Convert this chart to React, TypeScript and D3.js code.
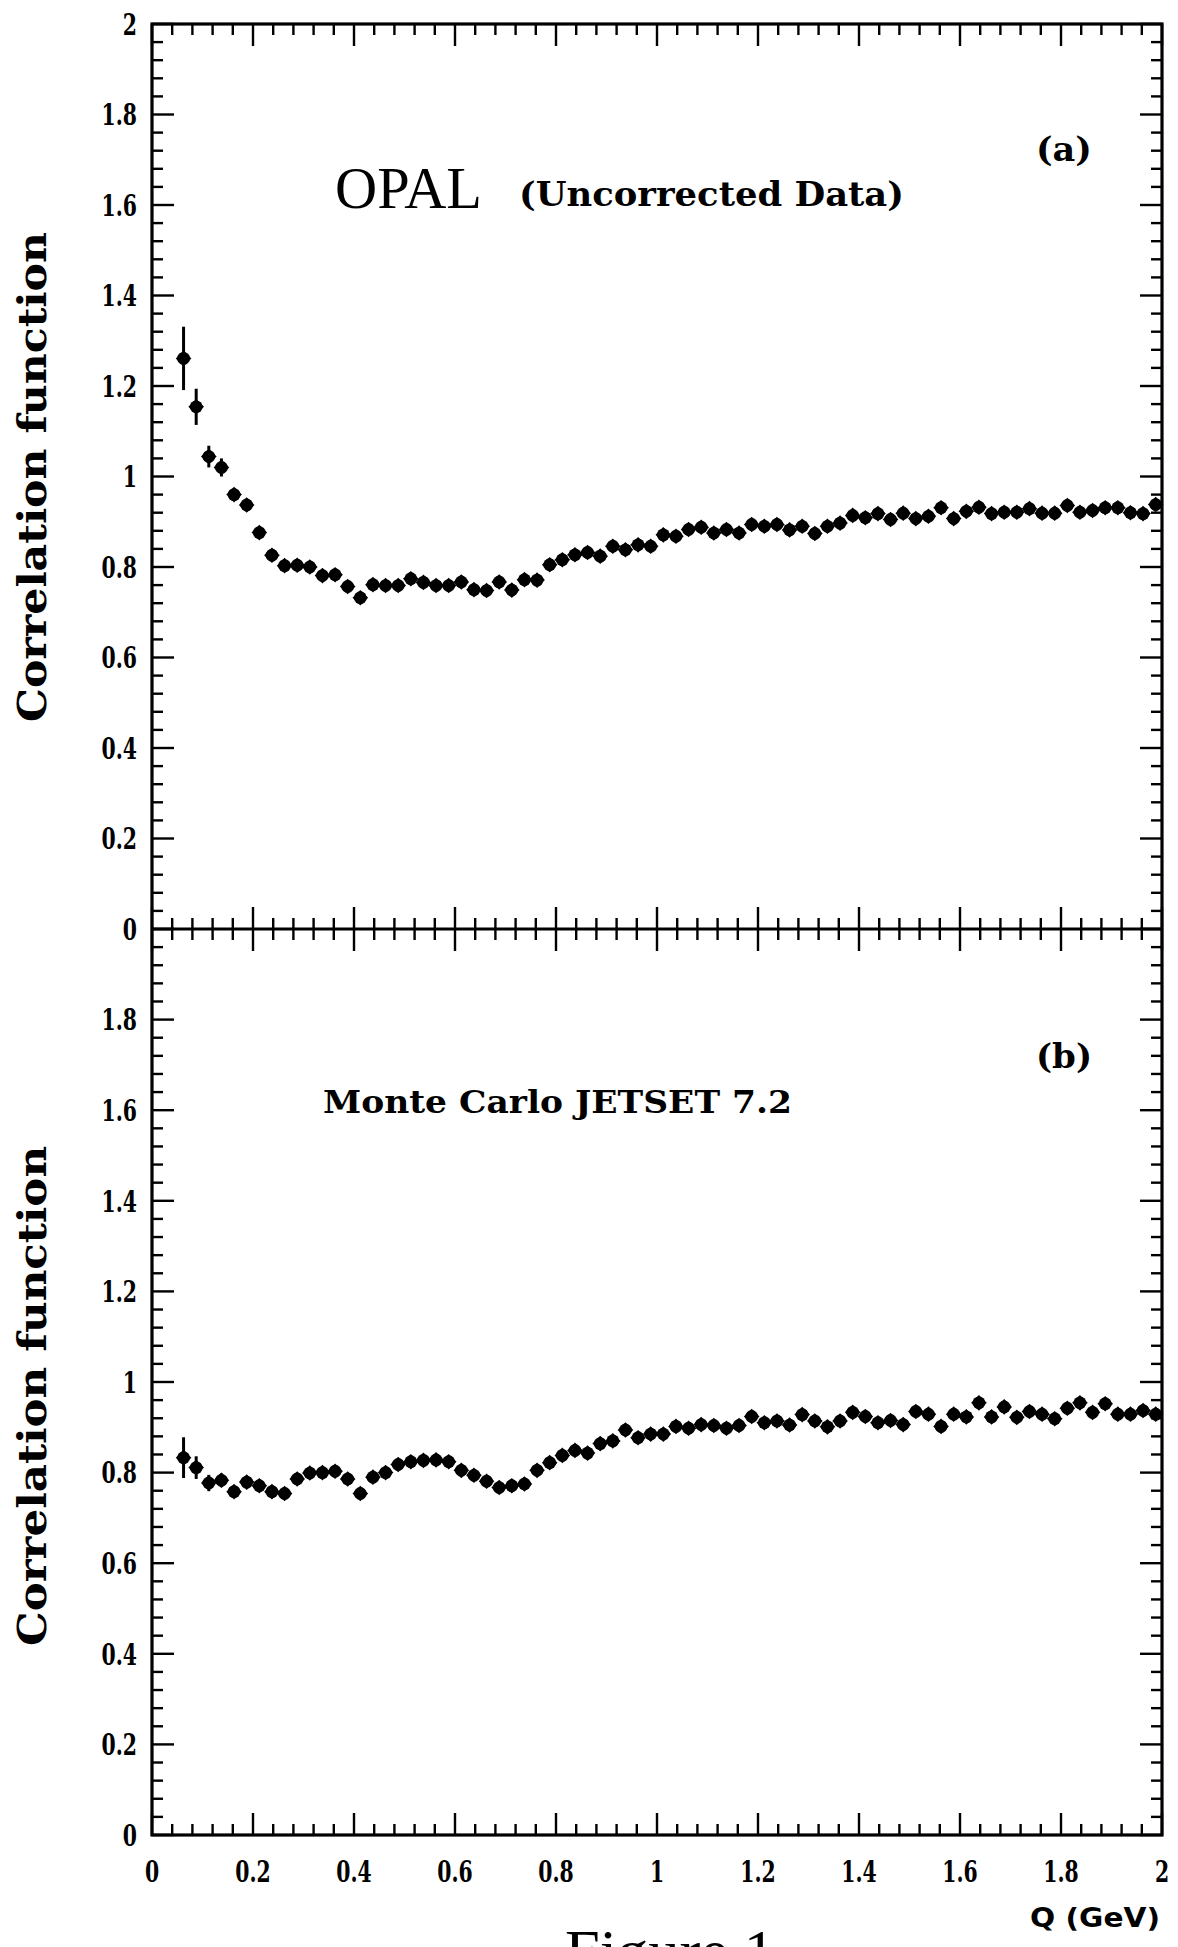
import React from 'react';
import * as d3 from 'd3';

// Bin centres of Q (GeV)
const qValues = [
  0.0625, 0.0875, 0.1125, 0.1375, 0.1625, 0.1875, 0.2125, 0.2375, 0.2625, 0.2875,
  0.3125, 0.3375, 0.3625, 0.3875, 0.4125, 0.4375, 0.4625, 0.4875, 0.5125, 0.5375,
  0.5625, 0.5875, 0.6125, 0.6375, 0.6625, 0.6875, 0.7125, 0.7375, 0.7625, 0.7875,
  0.8125, 0.8375, 0.8625, 0.8875, 0.9125, 0.9375, 0.9625, 0.9875, 1.0125, 1.0375,
  1.0625, 1.0875, 1.1125, 1.1375, 1.1625, 1.1875, 1.2125, 1.2375, 1.2625, 1.2875,
  1.3125, 1.3375, 1.3625, 1.3875, 1.4125, 1.4375, 1.4625, 1.4875, 1.5125, 1.5375,
  1.5625, 1.5875, 1.6125, 1.6375, 1.6625, 1.6875, 1.7125, 1.7375, 1.7625, 1.7875,
  1.8125, 1.8375, 1.8625, 1.8875, 1.9125, 1.9375, 1.9625, 1.9875,
];

// (a) OPAL uncorrected data
const opalValues = [
  1.261, 1.154, 1.044, 1.020, 0.960, 0.937, 0.876, 0.826, 0.803, 0.804,
  0.800, 0.781, 0.783, 0.757, 0.732, 0.761, 0.759, 0.759, 0.774, 0.766,
  0.759, 0.759, 0.767, 0.750, 0.748, 0.767, 0.749, 0.772, 0.771, 0.805,
  0.816, 0.827, 0.832, 0.824, 0.846, 0.838, 0.849, 0.846, 0.871, 0.868,
  0.883, 0.888, 0.875, 0.883, 0.875, 0.894, 0.890, 0.894, 0.882, 0.890,
  0.874, 0.890, 0.897, 0.914, 0.909, 0.918, 0.905, 0.919, 0.907, 0.912,
  0.931, 0.907, 0.923, 0.932, 0.918, 0.921, 0.921, 0.929, 0.919, 0.919,
  0.936, 0.921, 0.925, 0.931, 0.931, 0.920, 0.918, 0.938,
];
const opalErrors = [0.07, 0.04, 0.024, 0.02, 0.013, 0.011, 0.01];

// (b) Monte Carlo JETSET 7.2
const mcValues = [
  0.833, 0.811, 0.777, 0.783, 0.758, 0.779, 0.771, 0.758, 0.754, 0.786,
  0.799, 0.800, 0.803, 0.786, 0.754, 0.790, 0.800, 0.818, 0.824, 0.827,
  0.828, 0.824, 0.805, 0.794, 0.781, 0.767, 0.771, 0.775, 0.805, 0.822,
  0.838, 0.849, 0.843, 0.864, 0.870, 0.894, 0.877, 0.885, 0.885, 0.902,
  0.898, 0.906, 0.904, 0.898, 0.904, 0.924, 0.910, 0.914, 0.905, 0.928,
  0.914, 0.901, 0.914, 0.933, 0.924, 0.910, 0.915, 0.906, 0.935, 0.929,
  0.902, 0.929, 0.923, 0.954, 0.923, 0.945, 0.922, 0.935, 0.929, 0.919,
  0.942, 0.954, 0.933, 0.952, 0.929, 0.929, 0.937, 0.929,
];
const mcErrors = [0.045, 0.025, 0.018, 0.015, 0.01];

const xMajorTicks = [0, 0.2, 0.4, 0.6, 0.8, 1, 1.2, 1.4, 1.6, 1.8, 2];
const xTickLabels = ['0', '0.2', '0.4', '0.6', '0.8', '1', '1.2', '1.4', '1.6', '1.8', '2'];
const yMajorTicks = [0, 0.2, 0.4, 0.6, 0.8, 1, 1.2, 1.4, 1.6, 1.8, 2];
const yTickLabelsA = ['0', '0.2', '0.4', '0.6', '0.8', '1', '1.2', '1.4', '1.6', '1.8', '2'];
const yTickLabelsB = ['0', '0.2', '0.4', '0.6', '0.8', '1', '1.2', '1.4', '1.6', '1.8', ''];

const W = 1178;
const H = 1947;
const L = 152;
const R = 1162;
const TOP = 24;
const MID = 929;
const BOT = 1835;
const MAJ = 22;
const MIN = 11;

const SERIF_BOLD = "'DejaVu Serif', serif";
const LABEL_SIZE = 30;
const LABEL_SQUEEZE = 0.68;

const minorTicks = d3.range(0, 51).map((i) => i * 0.04);
const isMajor = (v: number) => Math.abs(v / 0.2 - Math.round(v / 0.2)) < 1e-6;

function marker(cx: number, cy: number, key: string) {
  const h = 7.8;
  const d = `M${cx},${cy - h}L${cx + h},${cy}L${cx},${cy + h}L${cx - h},${cy}Z`;
  return (
    <g key={key}>
      <path d={d} fill="#000" />
      <circle cx={cx} cy={cy} r={6.4} fill="#000" />
    </g>
  );
}

function TickLabel(props: { x: number; y: number; anchor: string; dy?: string; text: string }) {
  return (
    <text
      transform={`translate(${props.x},${props.y}) scale(${LABEL_SQUEEZE},1)`}
      dy={props.dy || 0}
      textAnchor={props.anchor}
      fontFamily={SERIF_BOLD}
      fontWeight="bold"
      fontSize={LABEL_SIZE}
    >
      {props.text}
    </text>
  );
}

export default function App() {
  const x = d3.scaleLinear().domain([0, 2]).range([L, R]);
  const yA = d3.scaleLinear().domain([0, 2]).range([MID, TOP]);
  const yB = d3.scaleLinear().domain([0, 2]).range([BOT, MID]);

  const hTicks = (y0: number, dir: number, both: boolean, keyp: string) =>
    minorTicks.map((v, i) => {
      const len = isMajor(v) ? MAJ : MIN;
      const xx = x(v);
      return (
        <line
          key={keyp + i}
          x1={xx}
          x2={xx}
          y1={both ? y0 - len : y0}
          y2={y0 + dir * len}
          stroke="#000"
          strokeWidth={2.4}
        />
      );
    });

  const vTicks = (y: d3.ScaleLinear<number, number>, keyp: string) =>
    minorTicks.map((v, i) => {
      const len = isMajor(v) ? MAJ : MIN;
      const yy = y(v);
      return (
        <g key={keyp + i}>
          <line x1={L} x2={L + len} y1={yy} y2={yy} stroke="#000" strokeWidth={2.4} />
          <line x1={R} x2={R - len} y1={yy} y2={yy} stroke="#000" strokeWidth={2.4} />
        </g>
      );
    });

  const series = (
    vals: number[],
    errs: number[],
    y: d3.ScaleLinear<number, number>,
    keyp: string
  ) =>
    vals.map((v, i) => {
      const cx = x(qValues[i]);
      const cy = y(v);
      const e = errs[i] || 0;
      return (
        <g key={keyp + i}>
          {e > 0 && (
            <line x1={cx} x2={cx} y1={y(v + e)} y2={y(v - e)} stroke="#000" strokeWidth={3} />
          )}
          {marker(cx, cy, keyp + 'm' + i)}
        </g>
      );
    });

  return (
    <svg
      width={W}
      height={H}
      viewBox={`0 0 ${W} ${H}`}
      style={{ position: 'absolute', left: 0, top: 0, background: '#fff' }}
    >
      <rect x={0} y={0} width={W} height={H} fill="#fff" />
      {/* frame */}
      <rect x={L} y={TOP} width={R - L} height={BOT - TOP} fill="none" stroke="#000" strokeWidth={3.2} />
      <line x1={L} x2={R} y1={MID} y2={MID} stroke="#000" strokeWidth={3.2} />

      {/* ticks */}
      {hTicks(TOP, 1, false, 'tt')}
      {hTicks(MID, 1, true, 'mt')}
      {hTicks(BOT, -1, false, 'bt')}
      {vTicks(yA, 'va')}
      {vTicks(yB, 'vb')}

      {/* y tick labels */}
      {yMajorTicks.map((v, i) => (
        <TickLabel key={'ya' + i} x={L - 15} y={yA(v)} dy="0.36em" anchor="end" text={yTickLabelsA[i]} />
      ))}
      {yMajorTicks.map((v, i) =>
        yTickLabelsB[i] ? (
          <TickLabel key={'yb' + i} x={L - 15} y={yB(v)} dy="0.36em" anchor="end" text={yTickLabelsB[i]} />
        ) : null
      )}

      {/* x tick labels */}
      {xMajorTicks.map((v, i) => (
        <TickLabel key={'xl' + i} x={x(v)} y={1882} anchor="middle" text={xTickLabels[i]} />
      ))}

      {/* axis titles */}
      <text
        transform={`translate(46,477) rotate(-90)`}
        textAnchor="middle"
        fontFamily={SERIF_BOLD}
        fontWeight="bold"
        fontSize={40}
        textLength={490}
        lengthAdjust="spacingAndGlyphs"
      >
        Correlation function
      </text>
      <text
        transform={`translate(46,1396) rotate(-90)`}
        textAnchor="middle"
        fontFamily={SERIF_BOLD}
        fontWeight="bold"
        fontSize={40}
        textLength={500}
        lengthAdjust="spacingAndGlyphs"
      >
        Correlation function
      </text>
      <text
        x={1030}
        y={1927}
        fontFamily="'DejaVu Sans', sans-serif"
        fontWeight="bold"
        fontSize={26}
        textLength={130}
        lengthAdjust="spacingAndGlyphs"
      >
        Q (GeV)
      </text>

      {/* annotations */}
      <text x={335} y={208} fontFamily="'Liberation Serif', serif" fontSize={60} textLength={147} lengthAdjust="spacingAndGlyphs">
        OPAL
      </text>
      <text
        x={519}
        y={206}
        fontFamily={SERIF_BOLD}
        fontWeight="bold"
        fontSize={33}
        textLength={385}
        lengthAdjust="spacingAndGlyphs"
      >
        (Uncorrected Data)
      </text>
      <text x={1036} y={161} fontFamily={SERIF_BOLD} fontWeight="bold" fontSize={33} textLength={56} lengthAdjust="spacingAndGlyphs">
        (a)
      </text>
      <text x={1036} y={1068} fontFamily={SERIF_BOLD} fontWeight="bold" fontSize={33} textLength={56} lengthAdjust="spacingAndGlyphs">
        (b)
      </text>
      <text
        x={323}
        y={1113}
        fontFamily={SERIF_BOLD}
        fontWeight="bold"
        fontSize={31}
        textLength={469}
        lengthAdjust="spacingAndGlyphs"
      >
        Monte Carlo JETSET 7.2
      </text>
      <text x={565} y={1972} fontFamily="'Liberation Serif', serif" fontSize={62} textLength={210} lengthAdjust="spacingAndGlyphs">
        Figure 1
      </text>

      {/* data */}
      {series(opalValues, opalErrors, yA, 'a')}
      {series(mcValues, mcErrors, yB, 'b')}
    </svg>
  );
}
